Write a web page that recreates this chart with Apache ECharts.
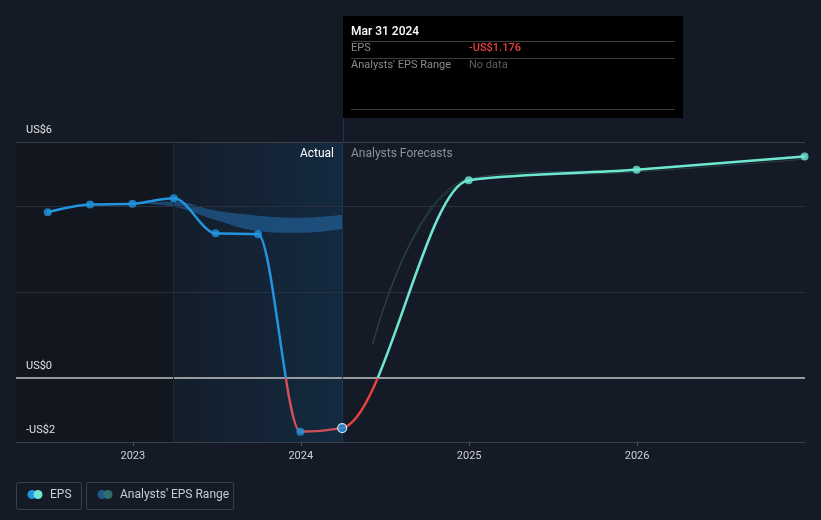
<!DOCTYPE html>
<html>
<head>
<meta charset="utf-8">
<script src="https://cdn.jsdelivr.net/npm/echarts@6/dist/echarts.min.js"></script>
<style>
html,body{margin:0;padding:0;background:#151b26;}
#c{width:821px;height:520px;}
</style>
</head>
<body>
<div id="c"></div>
<script>
// ---- data ----
const actualDates = ['2022-06-30','2022-09-30','2022-12-31','2023-03-31','2023-06-30','2023-09-30','2023-12-31','2024-03-31'];
const actualEps = [3.86, 4.04, 4.06, 4.19, 3.37, 3.35, -1.26, -1.176];
const forecastDates = ['2024-03-31','2024-12-31','2025-12-31','2026-12-31'];
const forecastEps = [-1.176, 4.61, 4.85, 5.16];
const rangeDates = ['2022-12-31','2023-03-31','2023-06-30','2023-09-30','2023-12-31','2024-03-31'];
const rangeLow = [4.06, 3.99, 3.68, 3.42, 3.38, 3.47];
const rangeHigh = [4.06, 4.11, 3.90, 3.78, 3.73, 3.80];
const fRangeDates = ['2024-06-05','2024-12-31','2025-12-31','2026-12-31'];
const fRangeLow = [0.77, 4.58, 4.80, 5.10];
const fRangeHigh = [0.77, 4.64, 4.87, 5.18];
const yLabelValues = [5.5, 0, -1.5];
const yLabelTexts = ['US$6', 'US$0', '-US$2'];
const yGridValues = [4, 2];
const xMin = '2022-04-22', xMax = '2027-01-01';
const actualStart = '2023-03-29', actualEnd = '2024-03-31';
const tipDate = 'Mar 31 2024', tipEps = '-US$1.176', tipRange = 'No data';

const pair = (d, v) => d.map((x, i) => [x, v[i]]);
const font = 'Roboto, "Noto Sans", sans-serif';
const chart = echarts.init(document.getElementById('c'), null, {renderer: 'canvas'});

// full EPS line = actual then forecast (shared point not repeated)
const lineData = pair(actualDates.concat(forecastDates.slice(1)), actualEps.concat(forecastEps.slice(1)));
const nActualSeg = actualDates.length - 1;

const H = 520;
let zeroFrac = 0.727;
const splitGrad = (above, below) => ({
  type: 'linear', x: 0, y: 0, x2: 0, y2: H, global: true,
  colorStops: [{offset: 0, color: above}, {offset: zeroFrac, color: above}, {offset: zeroFrac, color: below}, {offset: 1, color: below}]
});

// monotone-x cubic (pixel space), one bezier per segment
function renderSeg(params, api) {
  const i = params.dataIndex;
  const n = lineData.length;
  if (i >= n - 1) return null;
  const P = [];
  for (let j = 0; j < n; j++) P.push(api.coord([api.value(0, j), api.value(1, j)]));
  const s = [], h = [];
  for (let j = 0; j < n - 1; j++) { h[j] = P[j + 1][0] - P[j][0]; s[j] = (P[j + 1][1] - P[j][1]) / h[j]; }
  const t = [];
  for (let j = 1; j < n - 1; j++) {
    const p = (s[j - 1] * h[j] + s[j] * h[j - 1]) / (h[j - 1] + h[j]);
    t[j] = (Math.sign(s[j - 1]) + Math.sign(s[j])) * Math.min(Math.abs(s[j - 1]), Math.abs(s[j]), 0.5 * Math.abs(p)) || 0;
  }
  t[0] = (3 * s[0] - t[1]) / 2;
  t[n - 1] = (3 * s[n - 2] - t[n - 2]) / 2;
  const dx = h[i] / 3;
  const zy = api.coord([api.value(0, 0), 0])[1];
  zeroFrac = zy / H;
  const stroke = i < nActualSeg ? splitGrad('#2394df', '#cf4f5b') : splitGrad('#6ee7d2', '#e5423f');
  return {
    type: 'bezierCurve',
    shape: {
      x1: P[i][0], y1: P[i][1], x2: P[i + 1][0], y2: P[i + 1][1],
      cpx1: P[i][0] + dx, cpy1: P[i][1] + dx * t[i],
      cpx2: P[i + 1][0] - dx, cpy2: P[i + 1][1] - dx * t[i + 1]
    },
    style: {stroke: stroke, fill: null, lineWidth: 2.5, lineCap: 'round'}
  };
}

const gridMarkLines = [];
yGridValues.forEach(v => gridMarkLines.push({yAxis: v, lineStyle: {color: '#2a303b', width: 1, type: 'solid'}, label: {show: false}}));
yLabelValues.forEach((v, i) => gridMarkLines.push({
  yAxis: v,
  lineStyle: v === 0 ? {color: '#c4c4c4', width: 1.5, type: 'solid'} : {color: '#3a3f48', width: 1, type: 'solid'},
  label: {show: true, position: 'insideStartTop', formatter: yLabelTexts[i], color: '#e0e0e0', fontSize: 11, fontFamily: font, distance: [10, 6]}
}));

const option = {
  backgroundColor: '#151b26',
  animation: false,
  grid: {left: 16, right: 16, top: 142, bottom: 78},
  xAxis: {
    type: 'time', min: xMin, max: xMax,
    minInterval: 365 * 24 * 3600 * 1000, maxInterval: 366 * 24 * 3600 * 1000,
    axisLine: {onZero: false, lineStyle: {color: '#3a3f48'}},
    axisTick: {show: true, length: 4, lineStyle: {color: '#555'}},
    axisLabel: {formatter: '{yyyy}', color: '#d0d0d0', fontSize: 11, fontFamily: font, margin: 9, showMaxLabel: false},
    splitLine: {show: false}
  },
  yAxis: {
    type: 'value', min: -1.5, max: 5.5,
    axisLine: {show: false}, axisTick: {show: false}, axisLabel: {show: false}, splitLine: {show: false}
  },
  series: [
    {
      name: 'EPS', type: 'custom', data: lineData, renderItem: renderSeg, z: 5, silent: true,
      encode: {x: 0, y: 1},
      markArea: {
        silent: true,
        data: [
          [{xAxis: xMin, itemStyle: {color: '#12161e'}}, {xAxis: actualStart}],
          [{xAxis: actualStart, itemStyle: {color: {type: 'linear', x: 0, y: 0, x2: 1, y2: 0,
            colorStops: [{offset: 0, color: '#131d2a'}, {offset: 1, color: '#142a40'}]}}}, {xAxis: actualEnd}]
        ]
      },
      markLine: {silent: true, symbol: 'none', data: [
        ...gridMarkLines,
        {xAxis: actualStart, lineStyle: {color: '#1c2a3a', width: 1, type: 'solid'}, label: {show: false}},
        {xAxis: actualEnd, lineStyle: {color: '#1c3450', width: 1, type: 'solid'}, label: {show: false}}
      ]}
    },
    {
      name: 'rangeLow', type: 'line', data: pair(rangeDates, rangeLow), stack: 'r', smooth: 0.4,
      showSymbol: false, lineStyle: {width: 0}, z: 3
    },
    {
      name: 'rangeHigh', type: 'line', data: pair(rangeDates, rangeHigh.map((v, i) => v - rangeLow[i])), stack: 'r', smooth: 0.4,
      showSymbol: false, lineStyle: {width: 0}, areaStyle: {color: 'rgba(36,110,175,0.55)', opacity: 1}, z: 3
    },
    {
      name: 'fRangeLow', type: 'line', data: pair(fRangeDates, fRangeLow), smooth: 0.4,
      showSymbol: false, lineStyle: {width: 1, color: '#26403f'}, z: 3
    },
    {
      name: 'fRangeHigh', type: 'line', data: pair(fRangeDates, fRangeHigh), smooth: 0.4,
      showSymbol: false, lineStyle: {width: 1, color: '#2a4747'}, z: 3
    },
    {
      name: 'EPS points', type: 'scatter', symbolSize: 8, z: 6,
      data: pair(actualDates.slice(0, -1), actualEps.slice(0, -1)),
      itemStyle: {color: '#2394df'}
    },
    {
      name: 'EPS last', type: 'scatter', symbolSize: 9, z: 7,
      data: pair(actualDates.slice(-1), actualEps.slice(-1)),
      itemStyle: {color: '#2394df', borderColor: '#ffffff', borderWidth: 1.2}
    },
    {
      name: 'Forecast points', type: 'scatter', symbolSize: 8, z: 6,
      data: pair(forecastDates.slice(1), forecastEps.slice(1)),
      itemStyle: {color: '#6ee7d2'}
    }
  ],
  graphic: [
    {type: 'text', x: 334, y: 148, z: 20, style: {text: 'Actual', fill: '#ffffff', font: '12px ' + font, align: 'right'}},
    {type: 'text', x: 351, y: 148, z: 20, style: {text: 'Analysts Forecasts', fill: '#8b9099', font: '12px ' + font}},
    // tooltip box
    {type: 'rect', shape: {x: 343, y: 16, width: 340, height: 102}, style: {fill: '#000000'}, z: 100},
    {type: 'text', x: 351, y: 26, style: {text: tipDate, fill: '#ffffff', font: '500 12px ' + font}, z: 101},
    {type: 'line', shape: {x1: 351, y1: 41.5, x2: 675, y2: 41.5}, style: {stroke: '#3d3d3d', lineWidth: 1}, z: 101},
    {type: 'text', x: 351, y: 43, style: {text: 'EPS', fill: '#8a8a8a', font: '11px ' + font}, z: 101},
    {type: 'text', x: 469, y: 43, style: {text: tipEps, fill: '#e5423f', font: '500 11px ' + font}, z: 101},
    {type: 'line', shape: {x1: 351, y1: 58.5, x2: 675, y2: 58.5}, style: {stroke: '#3d3d3d', lineWidth: 1}, z: 101},
    {type: 'text', x: 351, y: 60, style: {text: "Analysts' EPS Range", fill: '#8a8a8a', font: '11px ' + font}, z: 101},
    {type: 'text', x: 469, y: 60, style: {text: tipRange, fill: '#5e5e5e', font: '11px ' + font}, z: 101},
    {type: 'line', shape: {x1: 351, y1: 109.5, x2: 675, y2: 109.5}, style: {stroke: '#3d3d3d', lineWidth: 1}, z: 101},
    {type: 'line', shape: {x1: 343.5, y1: 118, x2: 343.5, y2: 142}, style: {stroke: '#1c3450', lineWidth: 1}, z: 101},
    // legend
    {type: 'rect', shape: {x: 16.5, y: 482.5, width: 65, height: 27, r: 2}, style: {fill: 'transparent', stroke: '#3a3f4a', lineWidth: 1}},
    {type: 'circle', shape: {cx: 32, cy: 494.5, r: 4.5}, style: {fill: '#2394df'}},
    {type: 'circle', shape: {cx: 38, cy: 494.5, r: 4.5}, style: {fill: '#6ee7d2'}},
    {type: 'text', x: 50, y: 489, style: {text: 'EPS', fill: '#c8ccd2', font: '12px ' + font}},
    {type: 'rect', shape: {x: 86.5, y: 482.5, width: 147, height: 27, r: 2}, style: {fill: 'transparent', stroke: '#3a3f4a', lineWidth: 1}},
    {type: 'circle', shape: {cx: 102, cy: 494.5, r: 4.5}, style: {fill: '#1f5a85'}},
    {type: 'circle', shape: {cx: 108, cy: 494.5, r: 4.5}, style: {fill: '#2e6e6c'}},
    {type: 'text', x: 120, y: 489, style: {text: "Analysts' EPS Range", fill: '#c8ccd2', font: '12px ' + font}}
  ]
};
chart.setOption(option);
</script>
</body>
</html>
